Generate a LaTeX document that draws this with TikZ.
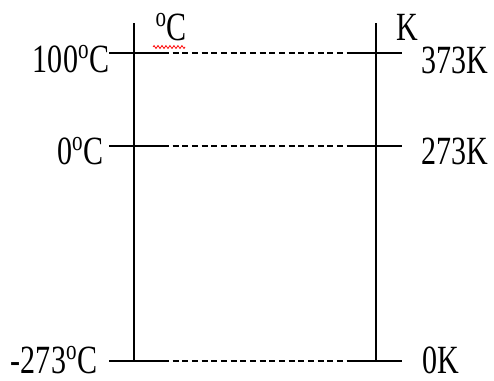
\documentclass[tikz,border=0pt]{standalone}
\usepackage{fontspec}
\setmainfont{Liberation Serif}[FakeStretch=0.75]
\usetikzlibrary{decorations.pathmorphing}

\begin{document}
\begin{tikzpicture}[x=0.02cm, y=-0.02cm, line width=0.6pt,
    every node/.style={inner sep=0pt, font=\fontsize{22.8}{27}\selectfont},
    dashline/.style={dash pattern=on 3.4pt off 2.1pt}]
    \useasboundingbox (0,0) rectangle (494,380);

    % the two scales
    \coordinate (ctop) at (134,23);
    \coordinate (cbot) at (134,361);
    \coordinate (ktop) at (376,23);
    \coordinate (kbot) at (376,361);
    \draw (ctop) -- (cbot);
    \draw (ktop) -- (kbot);

    % fixed points
    \foreach \name/\y in {boil/53, melt/146, zero/361} {
        \coordinate (\name-l) at (109,\y);
        \coordinate (\name-a) at (163,\y);
        \coordinate (\name-b) at (347,\y);
        \coordinate (\name-r) at (402,\y);
        \draw (\name-l) -- (\name-a);
        \draw[dashline] (\name-a) -- (\name-b);
        \draw (\name-b) -- (\name-r);
    }

    % labels
    \node[anchor=base east] (c100) at (110,72) {100\textsuperscript{o}C};
    \node[anchor=base east] (c0) at (104,164) {0\textsuperscript{o}C};
    \node[anchor=base east] (c273) at (98,373) {-273\textsuperscript{o}C};
    \node[anchor=base west] (k373) at (421,73) {373K};
    \node[anchor=base west] (k273) at (421,164) {273K};
    \node[anchor=base west] (k0) at (422,373) {0K};
    \node[anchor=base west] (celsius) at (155,40) {\textsuperscript{o}C};
    \node[anchor=base west] (kelvin) at (396,40) {K};

    \draw[red, line width=0.4pt, decorate,
        decoration={zigzag, segment length=0.08cm, amplitude=0.03cm}]
        (153,47) -- (185,47);
\end{tikzpicture}
\end{document}
